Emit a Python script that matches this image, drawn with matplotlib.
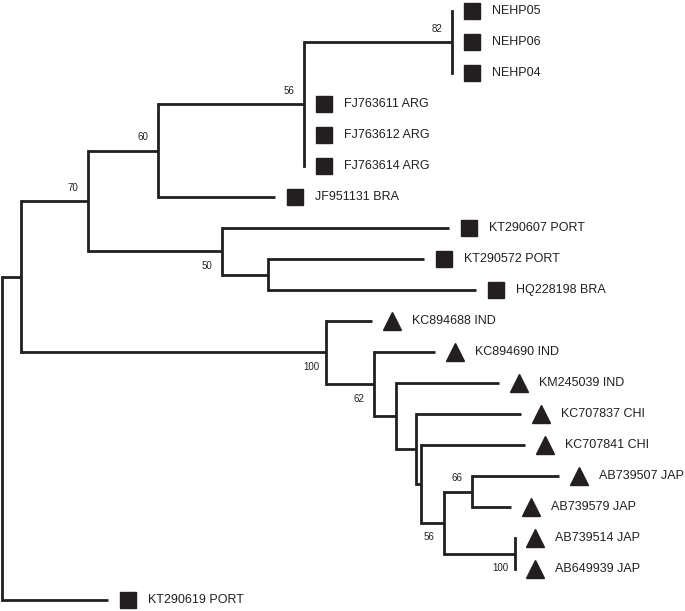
import matplotlib.pyplot as plt

# leaves, top to bottom
leaf_names = ["NEHP05", "NEHP06", "NEHP04", "FJ763611 ARG", "FJ763612 ARG", "FJ763614 ARG",
              "JF951131 BRA", "KT290607 PORT", "KT290572 PORT", "HQ228198 BRA",
              "KC894688 IND", "KC894690 IND", "KM245039 IND", "KC707837 CHI", "KC707841 CHI",
              "AB739507 JAP", "AB739579 JAP", "AB739514 JAP", "AB649939 JAP", "KT290619 PORT"]
leaf_depth = [450, 450, 450, 302, 302, 302, 273, 447, 422, 474,
              370, 433, 497, 519, 523, 557, 509, 513, 513, 106]
leaf_shape = ["s"] * 10 + ["^"] * 9 + ["s"]

# internal nodes: depth, bootstrap support, children
node_depth = {"root": 0, "A": 19, "n70": 86, "n60": 156, "n56a": 302, "n82": 450,
              "n50": 220, "n266": 266, "n100a": 324, "n62": 372, "n394": 394,
              "n414": 414, "n419": 419, "n56b": 442, "n66": 470, "n100b": 513}
node_support = {"n70": 70, "n60": 60, "n56a": 56, "n82": 82, "n50": 50,
                "n100a": 100, "n62": 62, "n66": 66, "n56b": 56, "n100b": 100}
node_children = {
    "root": ["A", "KT290619 PORT"],
    "A": ["n70", "n100a"],
    "n70": ["n60", "n50"],
    "n60": ["n56a", "JF951131 BRA"],
    "n56a": ["n82", "FJ763611 ARG", "FJ763612 ARG", "FJ763614 ARG"],
    "n82": ["NEHP05", "NEHP06", "NEHP04"],
    "n50": ["KT290607 PORT", "n266"],
    "n266": ["KT290572 PORT", "HQ228198 BRA"],
    "n100a": ["KC894688 IND", "n62"],
    "n62": ["KC894690 IND", "n394"],
    "n394": ["KM245039 IND", "n414"],
    "n414": ["KC707837 CHI", "n419"],
    "n419": ["KC707841 CHI", "n56b"],
    "n56b": ["n66", "n100b"],
    "n66": ["AB739507 JAP", "AB739579 JAP"],
    "n100b": ["AB739514 JAP", "AB649939 JAP"],
}

depth = dict(node_depth)
depth.update(zip(leaf_names, leaf_depth))
ypos = {name: i for i, name in enumerate(leaf_names)}


def place(node):
    if node in ypos:
        return ypos[node]
    ys = [place(c) for c in node_children[node]]
    ypos[node] = (min(ys) + max(ys)) / 2
    return ypos[node]


place("root")

fig = plt.figure(figsize=(6.85, 6.11), dpi=100)
ax = fig.add_axes([0, 0, 1, 1])
ax.set_xlim(-2, 683)
ax.set_ylim(19 + 11 / 31, -11 / 31)
ax.axis("off")

lw = 2.0
for node, kids in node_children.items():
    x0 = depth[node]
    ys = [ypos[c] for c in kids]
    ax.plot([x0, x0], [min(ys), max(ys)], color="#231f20", lw=lw,
            solid_capstyle="projecting", clip_on=False)
    for i, c in enumerate(kids):
        if depth[c] > x0:
            ax.plot([x0, depth[c]], [ypos[c], ypos[c]], color="#231f20", lw=lw,
                    solid_capstyle="butt", clip_on=False)
        # bootstrap value: above if top child, below otherwise
        if c in node_support:
            dy = -0.43 if i == 0 else 0.48
            ax.text(depth[c] - 15, ypos[c] + dy, str(node_support[c]),
                    ha="center", va="center", fontsize=7,
                    family="Liberation Sans", color="#231f20")

for name, d, m in zip(leaf_names, leaf_depth, leaf_shape):
    y = ypos[name]
    ms = 11.5 if m == "s" else 13.5
    ax.plot(d + 20, y, marker=m, markersize=ms, color="#231f20", linestyle="none")
    ax.text(d + 40, y, name, ha="left", va="center", fontsize=9,
            family="Liberation Sans", color="#231f20")

fig.savefig("out.png", dpi=100)
